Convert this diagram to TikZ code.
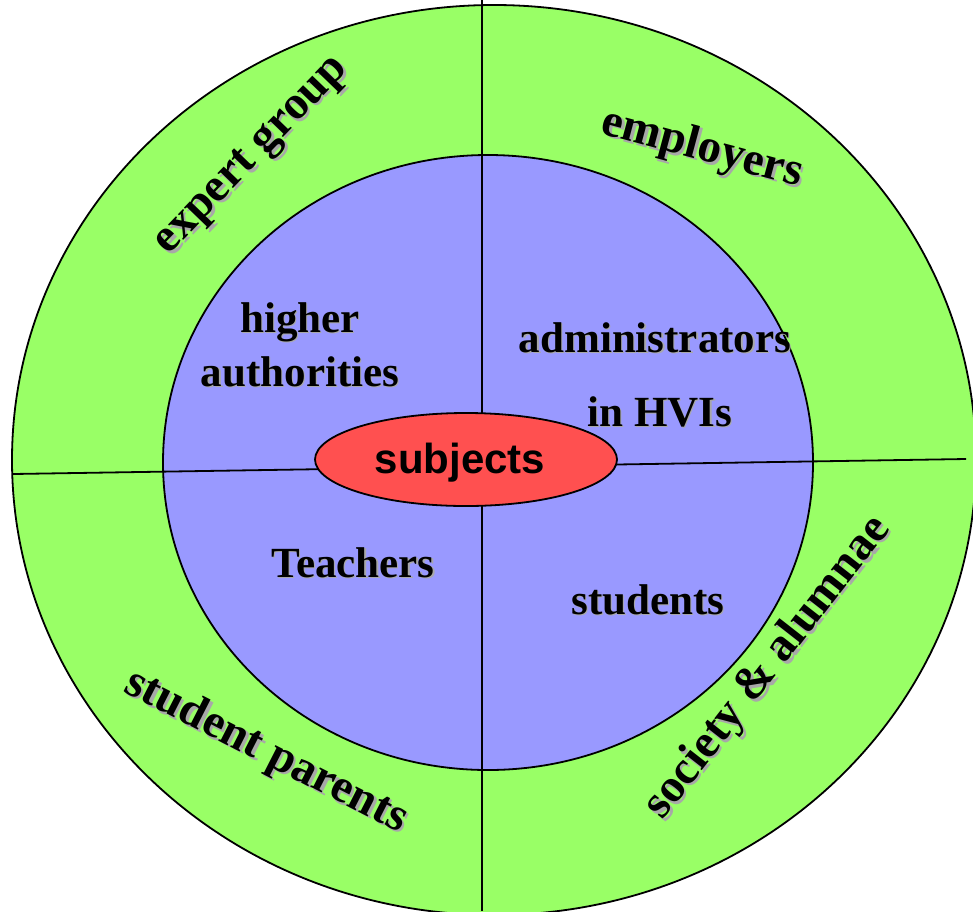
\documentclass[tikz,border=0pt]{standalone}
\usepackage{fontspec}
\usetikzlibrary{shapes.geometric}
\setmainfont{Liberation Serif}
\newfontfamily\arialbf{Liberation Sans}[BoldFont={* Bold}]
\definecolor{ringgreen}{HTML}{99FF66}
\definecolor{coreblue}{HTML}{9999FF}
\definecolor{hubred}{HTML}{FF5050}
\definecolor{shadowgray}{HTML}{A8A8A8}
\tikzset{
  outerlbl/.style={font=\fontsize{47}{50}\selectfont\bfseries, inner sep=0pt},
  innerlbl/.style={font=\fontsize{43}{48}\selectfont\bfseries, inner sep=0pt, align=center},
  bord/.style={draw=black, line width=1.8pt},
}
% shadowed label: #1 style, #2 name, #3 position, #4 rotation, #5 text, #6 shadow offset
\newcommand\shlabel[6]{%
  \node[#1, text=shadowgray, rotate=#4] at ([xshift=#6pt,yshift=-#6pt]#3) {#5};
  \node[#1, rotate=#4] (#2) at (#3) {#5};}
\begin{document}
\begin{tikzpicture}[x=1pt,y=-1pt]
\useasboundingbox (0,0) rectangle (973,911);
\clip (0,0) rectangle (973,911);
% outer ring
\draw[bord, fill=ringgreen] (494,460) ellipse [x radius=482, y radius=455];
% inner disc
\draw[bord, fill=coreblue] (488,462.5) ellipse [x radius=325, y radius=307.5];
% dividing lines
\coordinate (vtop) at (482,0);
\coordinate (vbot) at (482,911);
\coordinate (hl) at (13,474);
\coordinate (hr) at (966,459);
\draw[line width=1.8pt] (vtop) -- (vbot);
\draw[line width=1.8pt] (hl) -- (hr);
% centre
\node[bord, fill=hubred, ellipse, minimum width=302pt, minimum height=93pt, inner sep=0pt] (subj) at (466,459.5) {};
\node[font=\arialbf\fontsize{42}{44}\selectfont\bfseries, inner sep=0pt] (subjtxt) at (460,463) {subjects};
% outer labels
\shlabel{outerlbl}{expert}{253,157}{46}{expert group}{2.5}
\shlabel{outerlbl}{employ}{702,149}{-15}{employers}{2.5}
\shlabel{outerlbl}{parents}{266,752}{-27}{student parents}{2.5}
\shlabel{outerlbl}{society}{768,668}{52}{society \& alumnae}{2.5}
% inner labels
\shlabel{innerlbl}{higher}{300,322}{0}{higher}{1.2}
\shlabel{innerlbl}{auth}{300,372}{0}{authorities}{1.2}
\shlabel{innerlbl}{admin}{655,338}{0}{administrators}{1.2}
\shlabel{innerlbl}{hvi}{660,412}{0}{in HVIs}{1.2}
\shlabel{innerlbl}{teach}{353,563}{0}{Teachers}{1.2}
\shlabel{innerlbl}{stud}{648,600}{0}{students}{1.2}
\end{tikzpicture}
\end{document}
